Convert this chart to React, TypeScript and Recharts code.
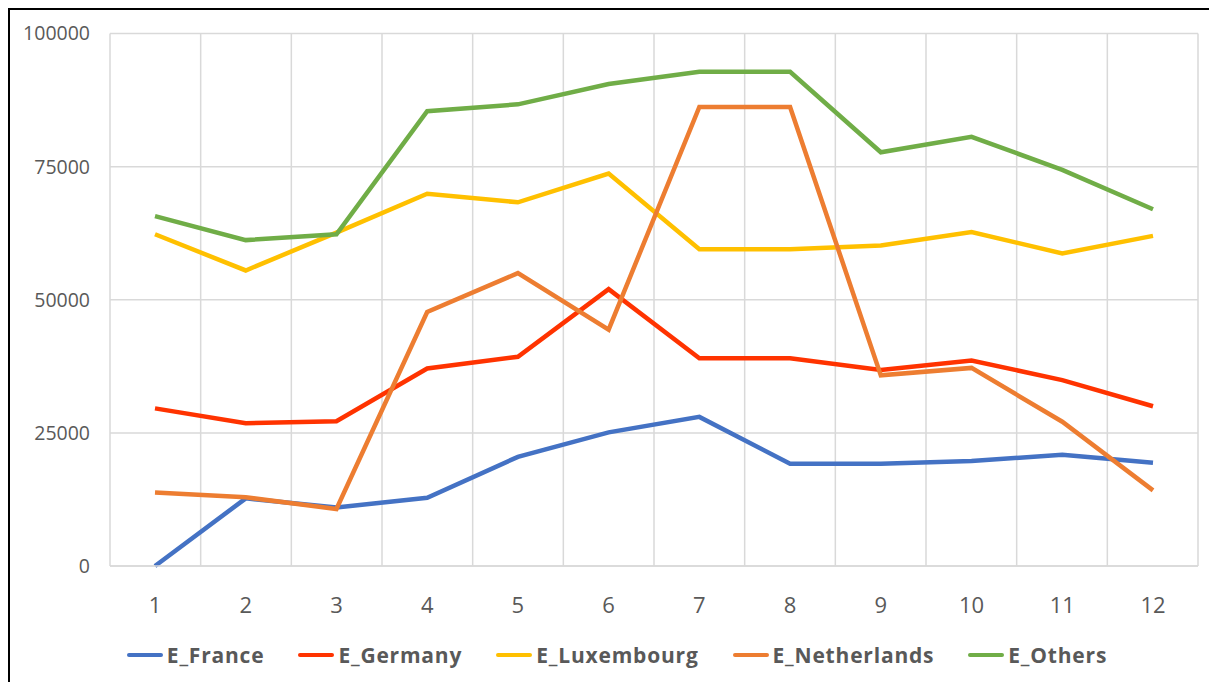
import React from "react";
import {
  CartesianGrid,
  Legend,
  Line,
  LineChart,
  XAxis,
  YAxis,
} from "recharts";

const months = ["1", "2", "3", "4", "5", "6", "7", "8", "9", "10", "11", "12"];

const france = [0, 12700, 11000, 12800, 20500, 25100, 28000, 19200, 19200, 19700, 20900, 19400];
const germany = [29600, 26800, 27200, 37100, 39300, 52000, 39000, 39000, 36800, 38600, 34900, 30000];
const luxembourg = [62300, 55500, 62600, 69900, 68300, 73700, 59500, 59500, 60200, 62700, 58700, 62000];
const netherlands = [13800, 12900, 10700, 47700, 55000, 44400, 86200, 86200, 35800, 37200, 27100, 14200];
const others = [65700, 61200, 62300, 85400, 86700, 90500, 92800, 92800, 77700, 80600, 74400, 67000];

const yTicks = [0, 25000, 50000, 75000, 100000];

const series = [
  { key: "E_France", values: france, color: "#4472C4" },
  { key: "E_Germany", values: germany, color: "#FF3300" },
  { key: "E_Luxembourg", values: luxembourg, color: "#FFC000" },
  { key: "E_Netherlands", values: netherlands, color: "#ED7D31" },
  { key: "E_Others", values: others, color: "#70AD47" },
];

const data = months.map((m, i) => {
  const row: Record<string, string | number> = { month: m };
  series.forEach((s) => {
    row[s.key] = s.values[i];
  });
  return row;
});

const FONT = '"Open Sans", "Noto Sans", sans-serif';
const GRID = "#D9D9D9";
const TEXT = "#595959";

function ChartLegend({ payload }: any) {
  return (
    <div
      style={{
        height: 54,
        display: "flex",
        alignItems: "center",
        justifyContent: "center",
        gap: 34,
        paddingLeft: 26,
        fontFamily: FONT,
        fontWeight: 700,
        fontSize: 21,
        color: TEXT,
        letterSpacing: 0.8,
      }}
    >
      {(payload || []).map((p: any) => (
        <div key={p.value} style={{ display: "flex", alignItems: "center" }}>
          <span
            style={{
              display: "inline-block",
              width: 36,
              height: 4,
              background: p.color,
              marginRight: 4,
              borderRadius: 2,
            }}
          />
          <span>{p.value}</span>
        </div>
      ))}
    </div>
  );
}

export default function App() {
  return (
    <div
      style={{
        width: 1207,
        height: 672,
        border: "2px solid #000",
        borderRight: "none",
        borderBottom: "none",
        background: "#fff",
      }}
    >
      <LineChart
        width={1207}
        height={672}
        data={data}
        margin={{ top: 23.5, right: 19, left: 0, bottom: 0 }}
      >
        <CartesianGrid
          stroke={GRID}
          strokeWidth={1.5}
          verticalCoordinatesGenerator={({ offset }: any) =>
            months
              .map((_, i) => offset.left + (i * offset.width) / months.length)
              .concat(offset.left + offset.width)
          }
        />
        <XAxis
          dataKey="month"
          padding={{ left: 45, right: 45 }}
          height={62}
          axisLine={{ stroke: GRID, strokeWidth: 1.5 }}
          tickLine={false}
          tickMargin={25}
          tick={{ fill: TEXT, fontSize: 22, fontFamily: FONT }}
        />
        <YAxis
          width={100}
          domain={[0, 100000]}
          ticks={yTicks}
          axisLine={false}
          tickLine={false}
          tickMargin={14}
          tick={{ fill: TEXT, fontSize: 19.5, fontFamily: FONT }}
        />
        <Legend verticalAlign="bottom" content={<ChartLegend />} />
        {series.map((s) => (
          <Line
            key={s.key}
            dataKey={s.key}
            name={s.key}
            stroke={s.color}
            strokeWidth={4.5}
            dot={false}
            activeDot={false}
            type="linear"
            isAnimationActive={false}
          />
        ))}
      </LineChart>
    </div>
  );
}
